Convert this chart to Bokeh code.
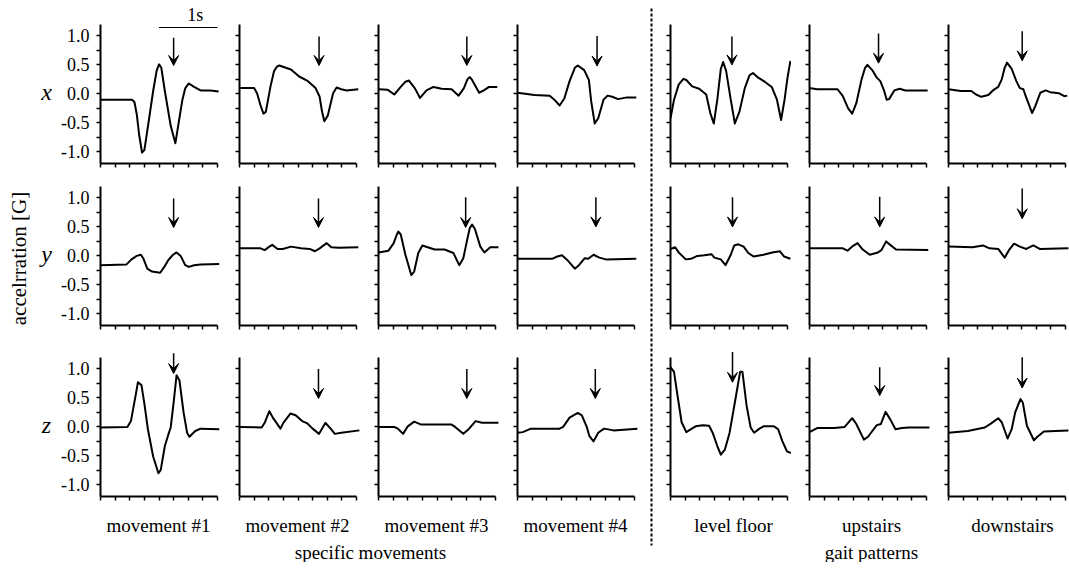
import math
from bokeh.plotting import figure
from bokeh.layouts import row, column
from bokeh.models import Range1d, FixedTicker, Arrow, VeeHead, PrintfTickFormatter
from bokeh.embed import file_html
from bokeh.resources import INLINE
from bokeh.core.properties import value

# ---------------- data ----------------
activities = ["movement #1", "movement #2", "movement #3", "movement #4",
              "level floor", "upstairs", "downstairs"]
axes_names = ["x", "y", "z"]
y_ticks = [-1.0, -0.5, 0.0, 0.5, 1.0]
y_minor = [-0.75, -0.25, 0.25, 0.75]
t_ticks = [0.0, 0.5, 1.0, 1.5, 2.0]
t_minor = [0.25, 0.75, 1.25, 1.75]
scale_bar = [1.0, 2.0]          # 1 s bar
scale_label = "1s"
group_labels = ["specific movements", "gait patterns"]
y_title = "accelrration [G]"

# --- x axis acceleration ---
t_x_m1 = [0, 0.30, 0.54, 0.58, 0.62, 0.66, 0.71, 0.75, 0.82, 0.90, 0.96, 1.00, 1.04, 1.10, 1.20, 1.28, 1.32, 1.40, 1.45, 1.51, 1.60, 1.71, 1.88, 2.02]
a_x_m1 = [-0.10, -0.10, -0.10, -0.14, -0.35, -0.70, -1.01, -0.97, -0.50, 0.05, 0.40, 0.51, 0.45, 0.05, -0.55, -0.85, -0.60, -0.10, 0.10, 0.18, 0.12, 0.06, 0.06, 0.04]
t_x_m2 = [0, 0.25, 0.30, 0.36, 0.41, 0.45, 0.53, 0.59, 0.64, 0.68, 0.79, 0.88, 1.02, 1.17, 1.30, 1.37, 1.41, 1.45, 1.51, 1.60, 1.66, 1.74, 1.83, 2.03]
a_x_m2 = [0.10, 0.10, 0.01, -0.20, -0.34, -0.31, 0.13, 0.39, 0.47, 0.49, 0.45, 0.42, 0.30, 0.22, 0.10, -0.05, -0.30, -0.47, -0.37, 0.01, 0.11, 0.08, 0.06, 0.08]
t_x_m3 = [0, 0.16, 0.27, 0.38, 0.46, 0.52, 0.62, 0.71, 0.82, 0.94, 1.08, 1.25, 1.37, 1.46, 1.52, 1.56, 1.60, 1.72, 1.80, 1.89, 2.03]
a_x_m3 = [0.08, 0.07, -0.01, 0.12, 0.21, 0.23, 0.10, -0.07, 0.06, 0.12, 0.09, 0.08, -0.03, 0.10, 0.25, 0.29, 0.24, 0.02, 0.06, 0.12, 0.12]
t_x_m4 = [0, 0.29, 0.55, 0.63, 0.72, 0.80, 0.89, 0.98, 1.03, 1.14, 1.22, 1.26, 1.32, 1.38, 1.47, 1.54, 1.62, 1.72, 1.87, 2.03]
a_x_m4 = [0.02, -0.02, -0.03, -0.10, -0.20, -0.08, 0.22, 0.45, 0.49, 0.41, 0.24, -0.13, -0.51, -0.42, -0.10, -0.03, -0.05, -0.09, -0.06, -0.06]
t_x_lf = [0, 0.06, 0.14, 0.22, 0.27, 0.37, 0.49, 0.61, 0.68, 0.74, 0.80, 0.86, 0.90, 0.95, 1.03, 1.10, 1.18, 1.27, 1.35, 1.41, 1.50, 1.61, 1.73, 1.82, 1.89, 1.95, 2.00, 2.05]
a_x_lf = [-0.42, -0.10, 0.16, 0.26, 0.24, 0.13, 0.09, -0.01, -0.33, -0.51, -0.10, 0.43, 0.55, 0.40, -0.10, -0.51, -0.30, 0.10, 0.32, 0.36, 0.28, 0.21, 0.12, -0.10, -0.45, -0.10, 0.28, 0.57]
t_x_up = [0, 0.13, 0.48, 0.57, 0.66, 0.73, 0.80, 0.89, 0.95, 0.99, 1.08, 1.15, 1.21, 1.27, 1.32, 1.36, 1.45, 1.54, 1.64, 2.02]
a_x_up = [0.10, 0.08, 0.08, -0.04, -0.25, -0.34, -0.16, 0.25, 0.45, 0.50, 0.40, 0.28, 0.22, 0.07, -0.10, -0.09, 0.06, 0.09, 0.06, 0.06]
t_x_dn = [0, 0.21, 0.39, 0.47, 0.56, 0.68, 0.76, 0.85, 0.91, 0.96, 1.00, 1.08, 1.16, 1.22, 1.28, 1.32, 1.43, 1.48, 1.57, 1.66, 1.74, 1.89, 1.98, 2.03]
a_x_dn = [0.08, 0.05, 0.05, -0.01, -0.05, -0.02, 0.06, 0.12, 0.25, 0.45, 0.54, 0.43, 0.22, 0.10, 0.08, -0.04, -0.33, -0.22, 0.02, 0.06, 0.03, 0.01, -0.04, -0.03]

# --- y axis acceleration ---
t_y_m1 = [0, 0.44, 0.53, 0.62, 0.69, 0.73, 0.80, 0.88, 1.02, 1.09, 1.16, 1.24, 1.30, 1.37, 1.45, 1.51, 1.60, 1.71, 2.03]
a_y_m1 = [-0.16, -0.15, -0.06, 0.00, 0.02, -0.04, -0.22, -0.27, -0.29, -0.19, -0.07, 0.02, 0.06, 0.00, -0.16, -0.19, -0.16, -0.15, -0.14]
t_y_m2 = [0, 0.36, 0.43, 0.51, 0.56, 0.65, 0.74, 0.88, 1.05, 1.20, 1.29, 1.37, 1.49, 1.57, 1.70, 2.03]
a_y_m2 = [0.13, 0.13, 0.10, 0.16, 0.19, 0.12, 0.12, 0.16, 0.13, 0.12, 0.08, 0.13, 0.22, 0.15, 0.14, 0.15]
t_y_m3 = [0, 0.17, 0.26, 0.31, 0.34, 0.38, 0.46, 0.56, 0.61, 0.68, 0.75, 0.84, 0.96, 1.13, 1.28, 1.38, 1.45, 1.51, 1.56, 1.60, 1.65, 1.74, 1.81, 1.91, 2.05]
a_y_m3 = [0.06, 0.09, 0.22, 0.36, 0.42, 0.37, 0.02, -0.33, -0.27, 0.05, 0.18, 0.15, 0.11, 0.11, 0.05, -0.16, -0.04, 0.25, 0.48, 0.54, 0.46, 0.16, 0.06, 0.15, 0.15]
t_y_m4 = [0, 0.59, 0.68, 0.76, 0.85, 0.98, 1.05, 1.15, 1.21, 1.30, 1.40, 1.51, 2.03]
a_y_m4 = [-0.05, -0.05, -0.01, 0.01, -0.07, -0.22, -0.16, -0.04, -0.05, 0.02, -0.03, -0.06, -0.05]
t_y_lf = [0, 0.08, 0.14, 0.26, 0.35, 0.46, 0.58, 0.70, 0.75, 0.86, 0.94, 1.03, 1.09, 1.16, 1.25, 1.33, 1.42, 1.59, 1.74, 1.87, 1.94, 2.05]
a_y_lf = [0.12, 0.15, 0.06, -0.06, -0.05, 0.00, 0.01, 0.03, -0.03, -0.06, -0.16, 0.02, 0.18, 0.20, 0.16, 0.05, -0.01, 0.02, 0.06, 0.08, -0.01, -0.05]
t_y_up = [0, 0.57, 0.65, 0.74, 0.82, 0.91, 1.03, 1.17, 1.23, 1.31, 1.38, 1.48, 2.03]
a_y_up = [0.13, 0.13, 0.09, 0.17, 0.22, 0.11, 0.02, 0.06, 0.10, 0.25, 0.19, 0.11, 0.10]
t_y_dn = [0, 0.41, 0.59, 0.70, 0.85, 0.96, 1.04, 1.12, 1.22, 1.33, 1.45, 1.56, 2.05]
a_y_dn = [0.16, 0.15, 0.18, 0.13, 0.12, -0.03, 0.11, 0.21, 0.16, 0.12, 0.18, 0.12, 0.13]

# --- z axis acceleration ---
t_z_m1 = [0, 0.46, 0.52, 0.60, 0.64, 0.70, 0.75, 0.81, 0.90, 0.99, 1.03, 1.10, 1.16, 1.20, 1.25, 1.30, 1.35, 1.42, 1.48, 1.52, 1.62, 1.71, 2.03]
a_z_m1 = [-0.01, 0.00, 0.10, 0.54, 0.77, 0.72, 0.40, -0.04, -0.51, -0.80, -0.74, -0.33, -0.13, -0.01, 0.42, 0.89, 0.80, 0.25, -0.10, -0.17, -0.07, -0.03, -0.04]
t_z_m2 = [0, 0.38, 0.43, 0.51, 0.57, 0.70, 0.75, 0.87, 0.96, 1.07, 1.16, 1.25, 1.36, 1.40, 1.47, 1.54, 1.63, 1.74, 2.05]
a_z_m2 = [0.00, -0.01, 0.07, 0.27, 0.16, -0.03, 0.07, 0.23, 0.20, 0.10, 0.06, -0.03, -0.12, -0.05, 0.07, -0.01, -0.12, -0.10, -0.06]
t_z_m3 = [0, 0.27, 0.33, 0.42, 0.50, 0.61, 0.73, 0.90, 1.25, 1.31, 1.45, 1.53, 1.66, 1.77, 2.05]
a_z_m3 = [0.00, 0.00, -0.03, -0.12, 0.01, 0.09, 0.04, 0.04, 0.04, 0.00, -0.12, -0.05, 0.10, 0.07, 0.07]
t_z_m4 = [0, 0.09, 0.23, 0.72, 0.78, 0.89, 1.03, 1.10, 1.18, 1.23, 1.30, 1.38, 1.48, 1.64, 2.05]
a_z_m4 = [-0.10, -0.09, -0.03, -0.03, 0.00, 0.16, 0.24, 0.20, 0.01, -0.16, -0.25, -0.10, -0.03, -0.06, -0.03]
t_z_lf = [0, 0.06, 0.12, 0.19, 0.27, 0.35, 0.43, 0.55, 0.66, 0.72, 0.80, 0.86, 0.93, 1.01, 1.10, 1.19, 1.23, 1.30, 1.37, 1.43, 1.52, 1.59, 1.77, 1.84, 1.91, 1.99, 2.06]
a_z_lf = [1.03, 0.95, 0.54, 0.08, -0.09, -0.04, 0.01, 0.03, 0.02, -0.10, -0.33, -0.48, -0.39, -0.10, 0.42, 0.95, 0.95, 0.37, -0.01, -0.10, -0.03, 0.01, 0.01, -0.04, -0.24, -0.42, -0.45]
t_z_up = [0, 0.13, 0.42, 0.60, 0.73, 0.80, 0.93, 1.00, 1.15, 1.22, 1.30, 1.38, 1.47, 1.58, 1.70, 2.05]
a_z_up = [-0.09, -0.02, -0.02, 0.00, 0.15, 0.05, -0.22, -0.17, 0.03, 0.05, 0.26, 0.13, -0.04, -0.02, -0.01, -0.01]
t_z_dn = [0, 0.33, 0.62, 0.73, 0.85, 0.91, 1.01, 1.08, 1.14, 1.23, 1.27, 1.34, 1.46, 1.52, 1.63, 1.83, 2.05]
a_z_dn = [-0.10, -0.07, -0.01, 0.06, 0.15, 0.08, -0.20, -0.04, 0.25, 0.48, 0.42, 0.02, -0.23, -0.17, -0.08, -0.07, -0.06]

# arrows marking the event: time, top value, tip value
arrow_t_x = [1.25, 1.36, 1.51, 1.36, 1.05, 1.18, 1.26]
arrow_top_x = [0.97, 0.99, 0.99, 1.00, 0.99, 1.04, 1.08]
arrow_tip_x = [0.49, 0.49, 0.49, 0.48, 0.50, 0.53, 0.57]
arrow_t_y = [1.25, 1.35, 1.49, 1.34, 1.06, 1.20, 1.26]
arrow_top_y = [0.99, 0.99, 1.01, 1.01, 1.01, 1.02, 1.16]
arrow_tip_y = [0.49, 0.49, 0.49, 0.50, 0.50, 0.50, 0.64]
arrow_t_z = [1.25, 1.35, 1.51, 1.33, 1.06, 1.20, 1.26]
arrow_top_z = [1.27, 1.00, 1.00, 1.00, 1.29, 1.03, 1.20]
arrow_tip_z = [0.92, 0.49, 0.49, 0.49, 0.77, 0.54, 0.67]

series = {
    "x": [(t_x_m1, a_x_m1), (t_x_m2, a_x_m2), (t_x_m3, a_x_m3), (t_x_m4, a_x_m4),
          (t_x_lf, a_x_lf), (t_x_up, a_x_up), (t_x_dn, a_x_dn)],
    "y": [(t_y_m1, a_y_m1), (t_y_m2, a_y_m2), (t_y_m3, a_y_m3), (t_y_m4, a_y_m4),
          (t_y_lf, a_y_lf), (t_y_up, a_y_up), (t_y_dn, a_y_dn)],
    "z": [(t_z_m1, a_z_m1), (t_z_m2, a_z_m2), (t_z_m3, a_z_m3), (t_z_m4, a_z_m4),
          (t_z_lf, a_z_lf), (t_z_up, a_z_up), (t_z_dn, a_z_dn)],
}
arrows = {
    "x": (arrow_t_x, arrow_top_x, arrow_tip_x),
    "y": (arrow_t_y, arrow_top_y, arrow_tip_y),
    "z": (arrow_t_z, arrow_top_z, arrow_tip_z),
}

# ---------------- layout constants (pixels) ----------------
FONT = "Liberation Serif"
PX_S = 58.5          # pixels per second
PX_G = 58.0          # pixels per G
Y_LO, Y_HI = -1.2, 1.2
FRAME_W = 121
FRAME_H = [163, 154, 163]
BOT = 8
LEFT_BORDER = [46, 18, 18, 18, 10, 18, 18]
TOTAL_H = 562
STRIP_H = 58
STRIP_TOP = TOTAL_H - STRIP_H   # page y of strip top


def style_axes(p, labels):
    for ax in (p.xaxis[0], p.yaxis[0]):
        ax.axis_line_width = 2
        ax.axis_line_color = "black"
        ax.major_tick_line_width = 1.5
        ax.minor_tick_line_width = 1.5
        ax.major_tick_line_color = "black"
        ax.minor_tick_line_color = "black"
        ax.major_tick_in = 0
        ax.major_tick_out = 4
        ax.minor_tick_in = 0
        ax.minor_tick_out = 4
    p.xaxis.bounds = (t_ticks[0], t_ticks[-1])
    p.yaxis.bounds = (Y_LO, Y_HI)
    # unlabeled axes: every tick drawn as a minor tick, so no label texts exist
    p.xaxis.ticker = FixedTicker(ticks=[], minor_ticks=sorted(t_ticks + t_minor))
    if labels:
        p.yaxis.ticker = FixedTicker(ticks=y_ticks, minor_ticks=y_minor)
        p.yaxis.formatter = PrintfTickFormatter(format="%.1f")
        p.yaxis.major_label_text_font = FONT
        p.yaxis.major_label_text_font_size = "18px"
        p.yaxis.major_label_text_color = "black"
        p.yaxis.major_label_standoff = 7
    else:
        p.yaxis.ticker = FixedTicker(ticks=[], minor_ticks=sorted(y_ticks + y_minor))


def make_panel(r, c):
    name = axes_names[r]
    t, a = series[name][c]
    fh = FRAME_H[r]
    lb = LEFT_BORDER[c]
    p = figure(width=lb + FRAME_W, height=fh + BOT,
               x_range=Range1d(0, FRAME_W / PX_S),
               y_range=Range1d(Y_LO, Y_LO + fh / PX_G),
               output_backend="svg", toolbar_location=None,
               min_border_left=lb, min_border_right=0,
               min_border_top=0, min_border_bottom=BOT)
    p.outline_line_color = None
    p.grid.visible = False
    p.background_fill_color = "white"
    p.border_fill_color = "white"
    style_axes(p, c == 0)
    p.line(t, a, line_width=2, color="black", line_join="round")
    at, atop, atip = arrows[name]
    p.add_layout(Arrow(end=VeeHead(size=10, fill_color="black", line_color="black", line_width=1),
                       x_start=at[c], y_start=atop[c], x_end=at[c], y_end=atip[c],
                       line_width=1.5, line_color="black"))
    if r == 0 and c == 0:
        p.segment(x0=[scale_bar[0]], y0=[1.145], x1=[scale_bar[1]], y1=[1.145],
                  line_width=1.2, color="black")
        p.text(x=[(scale_bar[0] + scale_bar[1]) / 2 + 0.12], y=[1.36], text=[scale_label],
               text_font=value(FONT), text_font_size="18px", text_align="center",
               text_baseline="middle", text_color="black")
    return p


def blank(width, height, x0, x1, y_top, y_bot):
    # coordinate system in page pixels; y measured upward (negated page y)
    p = figure(width=width, height=height, x_range=Range1d(x0, x1),
               y_range=Range1d(-y_bot, -y_top),
               output_backend="svg", toolbar_location=None,
               x_axis_type=None, y_axis_type=None,
               min_border_left=0, min_border_right=0,
               min_border_top=0, min_border_bottom=0)
    p.outline_line_color = None
    p.grid.visible = False
    return p


def add_text(p, xs, ys, texts, size, style="normal", angle=0.0):
    p.text(x=xs, y=[-v for v in ys], text=texts, angle=angle,
           text_font=value(FONT), text_font_size=size, text_font_style=style,
           text_align="center", text_baseline="middle", text_color="black")


panels = [[make_panel(r, c) for c in range(7)] for r in range(3)]

# left strip: y title and axis names
left_strip = blank(54, TOTAL_H, 0, 54, 0, TOTAL_H)
add_text(left_strip, [18], [258], [y_title], "21px", angle=math.pi / 2)
add_text(left_strip, [46, 46, 46], [91, 253, 424], axes_names, "24px", style="italic")

# dashed separator
dash_fig = blank(22, TOTAL_H, 638, 660, 0, TOTAL_H)
dash_fig.segment(x0=[651], y0=[-8], x1=[651], y1=[-545], line_width=2,
                 line_dash="3 2", color="black")

# bottom strips with activity names and group names
strip_left = blank(584, STRIP_H, 54, 638, STRIP_TOP, STRIP_TOP + STRIP_H)
add_text(strip_left, [158, 297, 436, 575], [525] * 4, activities[:4], "19px")
add_text(strip_left, [370], [552], [group_labels[0]], "19px")

strip_right = blank(409, STRIP_H, 660, 1069, STRIP_TOP, STRIP_TOP + STRIP_H)
add_text(strip_right, [733, 871, 1012], [525] * 3, activities[4:], "19px")
add_text(strip_right, [871], [552], [group_labels[1]], "19px")

left_block = column(*[row(*panels[r][0:4]) for r in range(3)], strip_left)
right_block = column(*[row(*panels[r][4:7]) for r in range(3)], strip_right)
layout = row(left_strip, left_block, dash_fig, right_block)

open("out.html", "w").write(file_html(layout, INLINE))
